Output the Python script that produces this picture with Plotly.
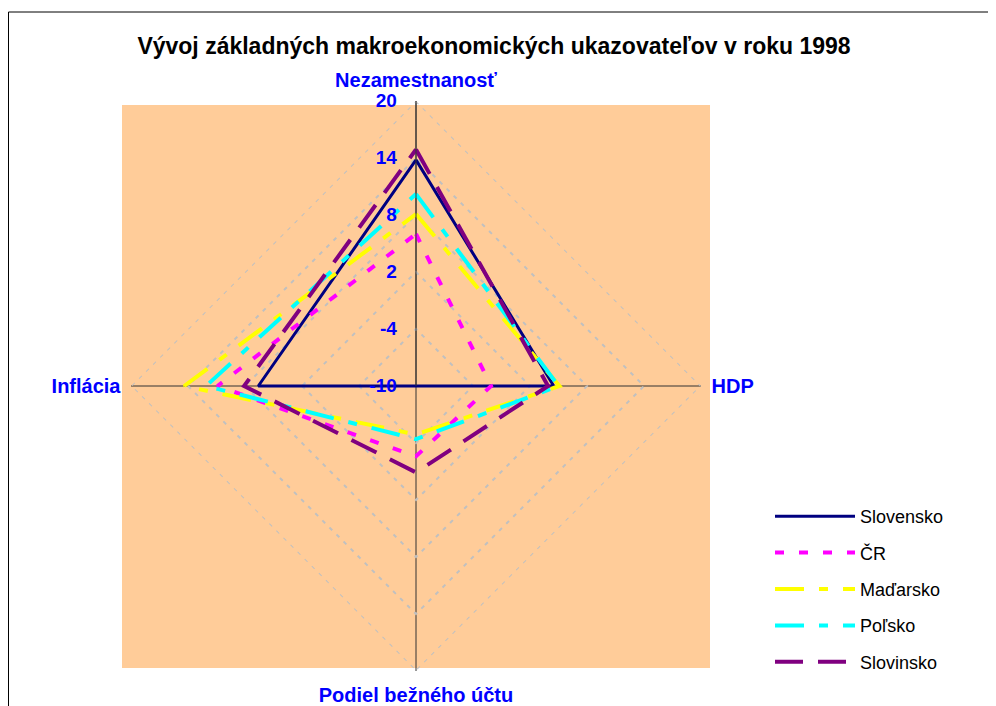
import plotly.graph_objects as go

# ========== DATA ==========
categories = ["Nezamestnanosť", "HDP", "Podiel bežného účtu", "Inflácia"]
slovensko = [13.8, 4.5, -10.0, 6.6]
cr = [6.0, -2.1, -2.6, 10.9]
madarsko = [8.1, 5.1, -4.9, 14.4]
polsko = [10.2, 5.0, -4.4, 12.1]
slovinsko = [14.9, 3.9, -0.9, 8.1]
radial_ticks = [-10, -4, 2, 8, 14, 20]

series = [
    ("Slovensko", slovensko, "#000080", "solid", 3),
    ("ČR", cr, "#FF00FF", "9px,15px", 4),
    ("Maďarsko", madarsko, "#FFFF00", "29px,15px,9px,15px", 4),
    ("Poľsko", polsko, "#00FFFF", "29px,15px,9px,15px", 4),
    ("Slovinsko", slovinsko, "#800080", "28px,15px", 4),
]

fig = go.Figure()
# outer gridline at the top of the scale (plotly skips it at the range edge)
fig.add_trace(go.Scatterpolar(
    r=[radial_ticks[-1]] * (len(categories) + 1), theta=categories + categories[:1],
    mode="lines", showlegend=False, hoverinfo="skip",
    line=dict(color="#C0C0C0", width=2, dash="4px,6px"),
))
for name, vals, color, dash, width in series:
    # close the polygon
    fig.add_trace(go.Scatterpolar(
        r=vals + vals[:1], theta=categories + categories[:1],
        mode="lines", name=name, legendgroup=name,
        line=dict(color=color, dash=dash, width=width),
    ))

# page body has an 8px margin -> work in screen pixels and shift
OFF = 8
W, H = 996 - OFF, 706 - OFF
px = lambda x: (x - OFF) / W
py = lambda y: 1 - (y - OFF) / H
cx, cy, rad = 416, 386, 285

fig.update_layout(
    width=W, height=H,
    margin=dict(l=0, r=0, t=0, b=0),
    paper_bgcolor="white",
    font=dict(family="Liberation Sans, Arial", color="black"),
    title=dict(text="Vývoj základných makroekonomických ukazovateľov v roku 1998",
               x=px(494), xanchor="center", y=py(46), yanchor="middle",
               font=dict(size=23, color="black", weight="bold")),
    polar=dict(
        domain=dict(x=[px(cx - rad), px(cx + rad)],
                    y=[py(cy + rad), py(cy - rad)]),
        bgcolor="rgba(0,0,0,0)",
        gridshape="linear",
        angularaxis=dict(
            rotation=90, direction="clockwise",
            categoryorder="array", categoryarray=categories,
            showline=False,
            gridcolor="#333333", gridwidth=1,
            ticks="outside", ticklen=6, tickcolor="rgba(0,0,0,0)",
            tickfont=dict(size=20, color="#0000FF", weight="bold"),
        ),
        radialaxis=dict(
            range=[-10, 20], tickvals=radial_ticks,
            ticktext=[str(v) for v in radial_ticks],
            angle=90, tickangle=90, side="counterclockwise",
            showline=True, linecolor="#333333", linewidth=1,
            gridcolor="#C0C0C0", gridwidth=2, griddash="4px,6px",
            ticks="outside", ticklen=12, tickcolor="rgba(0,0,0,0)",
            tickfont=dict(size=19, color="#0000FF", weight="bold"),
        ),
    ),
    legend=dict(
        x=px(770), xanchor="left", y=py(498), yanchor="top",
        font=dict(size=18, color="black"),
        traceorder="grouped", tracegroupgap=10, itemwidth=80,
        bgcolor="rgba(0,0,0,0)",
    ),
    shapes=[
        # orange plot area
        dict(type="rect", xref="paper", yref="paper", layer="below",
             x0=px(122), x1=px(710), y0=py(668), y1=py(105),
             fillcolor="#FFCC99", line=dict(width=0)),
        # chart frame
        dict(type="rect", xref="paper", yref="paper", layer="below",
             x0=0.5 / W, x1=1.05, y0=-0.05, y1=py(12),
             fillcolor="rgba(0,0,0,0)", line=dict(color="black", width=1)),
    ],
)

fig.write_html("out.html")
